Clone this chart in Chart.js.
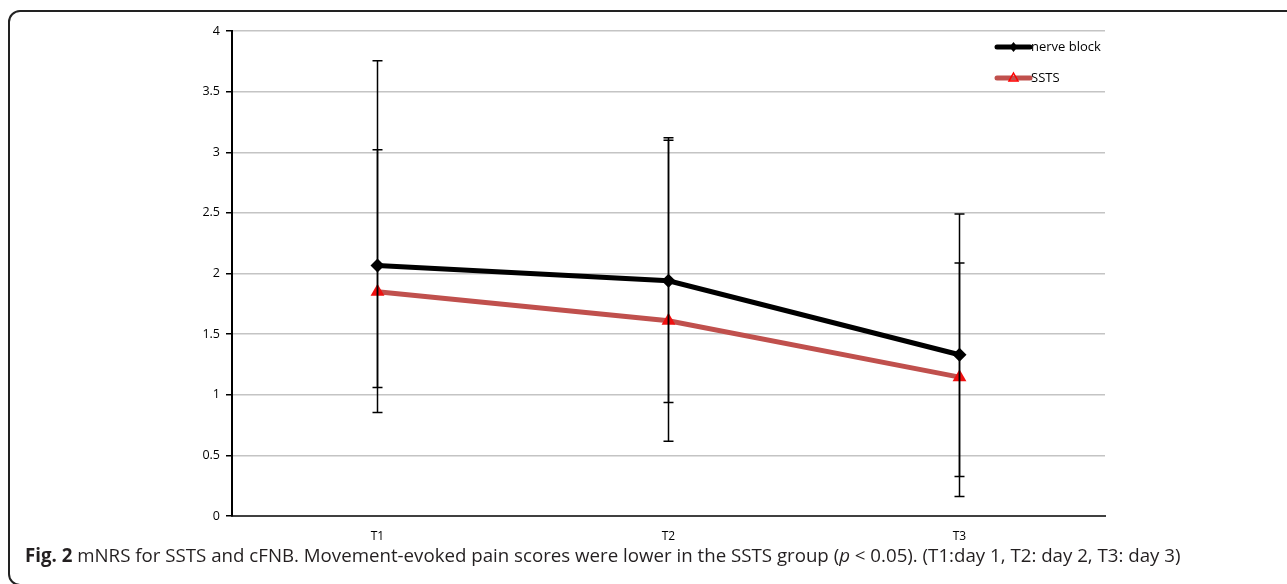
<!DOCTYPE html>
<html>
<head>
<meta charset="utf-8">
<script src="https://cdn.jsdelivr.net/npm/chart.js@4.4.0/dist/chart.umd.min.js"></script>
<style>
  html, body { margin: 0; padding: 0; background: #fff; }
  #wrap { position: relative; width: 1287px; height: 584px; overflow: hidden; }
  #frame {
    position: absolute; left: 8px; top: 10px; width: 1400px; height: 576px;
    border: 2px solid #222; border-radius: 12px; box-sizing: border-box;
  }
  #cv { position: absolute; left: 0; top: 0; }
  #caption {
    position: absolute; left: 25px; top: 542px; white-space: nowrap;
    font-family: "Open Sans", sans-serif; font-size: 18.7px; color: #231f20;
  }
</style>
</head>
<body>
<div id="wrap">
  <div id="frame"></div>
  <canvas id="cv" width="1287" height="584"></canvas>
  <div id="caption"><b>Fig. 2</b> mNRS for SSTS and cFNB. Movement-evoked pain scores were lower in the SSTS group (<i>p</i> &lt; 0.05). (T1:day 1, T2: day 2, T3: day 3)</div>
</div>
<script>
// data
let categorias = ['T1', 'T2', 'T3'];
let nerveBlock = [2.065, 1.94, 1.33];
let ssts = [1.85, 1.61, 1.145];
let nerveAlto = [3.755, 3.12, 2.49];
let nerveBajo = [0.853, 0.936, 0.326];
let sstsAlto = [3.02, 3.10, 2.087];
let sstsBajo = [1.06, 0.617, 0.16];
let yTicks = [0, 0.5, 1, 1.5, 2, 2.5, 3, 3.5, 4];

const errorBars = {
    id: 'errorBars',
    afterDatasetsDraw(chart) {
        const ctx = chart.ctx;
        const y = chart.scales.y;
        chart.data.datasets.forEach((ds, i) => {
            const meta = chart.getDatasetMeta(i);
            meta.data.forEach((pt, j) => {
                const top = y.getPixelForValue(ds.errAlto[j]);
                const bot = y.getPixelForValue(ds.errBajo[j]);
                ctx.save();
                ctx.strokeStyle = '#000';
                ctx.lineWidth = 1.5;
                ctx.beginPath();
                ctx.moveTo(pt.x, top); ctx.lineTo(pt.x, bot);
                ctx.moveTo(pt.x - 5, top); ctx.lineTo(pt.x + 5, top);
                ctx.moveTo(pt.x - 5, bot); ctx.lineTo(pt.x + 5, bot);
                ctx.stroke();
                ctx.restore();
            });
        });
    }
};

const leyenda = {
    id: 'leyenda',
    afterDraw(chart) {
        const ctx = chart.ctx;
        const x0 = 997, x1 = 1030;
        chart.data.datasets.forEach((ds, i) => {
            const yy = 47 + i * 31;
            ctx.save();
            ctx.strokeStyle = ds.borderColor;
            ctx.lineWidth = 5;
            ctx.lineCap = 'round';
            ctx.beginPath();
            ctx.moveTo(x0, yy); ctx.lineTo(x1, yy);
            ctx.stroke();
            const cx = (x0 + x1) / 2;
            if (i === 0) {
                ctx.fillStyle = '#000';
                ctx.beginPath();
                ctx.moveTo(cx, yy - 5); ctx.lineTo(cx + 4, yy);
                ctx.lineTo(cx, yy + 5); ctx.lineTo(cx - 4, yy);
                ctx.closePath(); ctx.fill();
            } else {
                ctx.strokeStyle = '#ff0000';
                ctx.lineWidth = 1.5;
                ctx.lineCap = 'butt';
                ctx.beginPath();
                ctx.moveTo(cx, yy - 5); ctx.lineTo(cx + 4.5, yy + 3);
                ctx.lineTo(cx - 4.5, yy + 3);
                ctx.closePath(); ctx.stroke();
            }
            ctx.fillStyle = '#000';
            ctx.font = '13px "Open Sans", sans-serif';
            ctx.textBaseline = 'middle';
            ctx.fillText(ds.label, x1 + 1, yy);
            ctx.restore();
        });
    }
};

const data = {
    labels: categorias,
    datasets: [
        {
            label: 'nerve block',
            data: nerveBlock,
            errAlto: nerveAlto,
            errBajo: nerveBajo,
            borderColor: '#000000',
            backgroundColor: '#000000',
            borderWidth: 5,
            pointStyle: 'rectRot',
            pointRadius: 7,
            pointBorderWidth: 0,
            tension: 0
        },
        {
            label: 'SSTS',
            data: ssts,
            errAlto: sstsAlto,
            errBajo: sstsBajo,
            borderColor: '#c0504d',
            backgroundColor: '#f01010',
            pointBackgroundColor: '#f01010',
            borderWidth: 5,
            pointStyle: 'triangle',
            pointRadius: 8,
            pointBorderWidth: 0,
            tension: 0
        }
    ]
};

const config = {
    type: 'line',
    data: data,
    options: {
        responsive: false,
        animation: false,
        layout: { padding: { left: 0, right: 182, top: 31, bottom: 0 } },
        plugins: {
            legend: { display: false },
            tooltip: { enabled: false }
        },
        scales: {
            x: {
                offset: true,
                grid: { display: false },
                border: { display: true, color: '#404040', width: 2 },
                ticks: {
                    color: '#000',
                    padding: 5,
                    font: { family: '"Open Sans", sans-serif', size: 12 }
                },
                afterFit(scale) { scale.height = 68; }
            },
            y: {
                min: 0,
                max: 4,
                afterBuildTicks(scale) { scale.ticks = yTicks.map(v => ({ value: v })); },
                grid: { color: '#c4c4c4', lineWidth: 1.5, tickColor: '#000', tickLength: 6 },
                border: { display: true, color: '#000', width: 2 },
                ticks: {
                    color: '#000',
                    padding: 6,
                    font: { family: '"Open Sans", sans-serif', size: 12.5 },
                    callback: v => String(v)
                },
                afterFit(scale) { scale.width = 232; }
            }
        }
    },
    plugins: [errorBars, leyenda]
};

const curva = new Chart(document.getElementById('cv'), config);
</script>
</body>
</html>
